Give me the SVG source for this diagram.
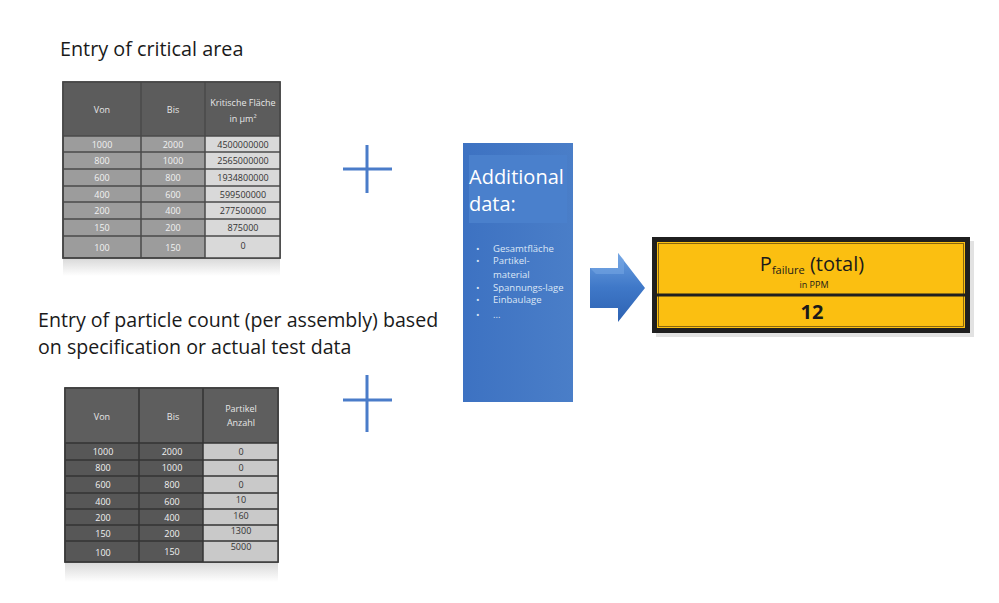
<svg xmlns="http://www.w3.org/2000/svg" width="999" height="603" viewBox="0 0 999 603">
<defs>
<style>
.lbl{font-family:"Open Sans","Noto Sans","Liberation Sans",sans-serif;fill:#1a1a1a}
.tb{font-family:"Open Sans","Liberation Sans",sans-serif;font-size:9px;text-anchor:middle}
.hd{fill:#e6e6e6}
.lt{fill:#f2f2f2}
.dk{fill:#333}
.plus{stroke:#4a7cc9;stroke-width:3;fill:none}
.bul{font-family:"Open Sans","Liberation Sans",sans-serif;font-size:9.5px;fill:#dde7f6}
</style>
<linearGradient id="arr" x1="0" y1="0" x2="0" y2="1">
<stop offset="0" stop-color="#6b9fe0"/><stop offset="0.5" stop-color="#3f78c8"/><stop offset="1" stop-color="#2d62b2"/>
</linearGradient>
<linearGradient id="refl" x1="0" y1="0" x2="0" y2="1">
<stop offset="0" stop-color="#d8d8d8"/><stop offset="1" stop-color="#ffffff"/>
</linearGradient>
<linearGradient id="blue" x1="0" y1="0" x2="1" y2="0">
<stop offset="0" stop-color="#3d72c2"/><stop offset="1" stop-color="#4a7ec8"/>
</linearGradient>
</defs>
<rect width="999" height="603" fill="#fff"/>

<g id="label-critical"><text class="lbl" x="60" y="56" font-size="19.8">Entry of critical area</text></g>

<g id="table-critical">
<rect x="63" y="258" width="217" height="18" fill="url(#refl)"/>
<rect x="63" y="82" width="217" height="176" fill="#9c9c9c" stroke="#444" stroke-width="1.5"/>
<rect x="63" y="82" width="217" height="54" fill="#5c5c5c"/>
<rect x="205" y="136" width="75" height="122" fill="#d9d9d9"/>
<g stroke="#4a4a4a" stroke-width="1.5">
<line x1="63" y1="136" x2="280" y2="136"/>
<line x1="63" y1="152" x2="280" y2="152"/>
<line x1="63" y1="169" x2="280" y2="169"/>
<line x1="63" y1="186" x2="280" y2="186"/>
<line x1="63" y1="202" x2="280" y2="202"/>
<line x1="63" y1="219" x2="280" y2="219"/>
<line x1="63" y1="236" x2="280" y2="236"/>
<line x1="141" y1="82" x2="141" y2="258"/>
<line x1="205" y1="82" x2="205" y2="258"/>
</g>
<rect x="63" y="82" width="217" height="176" fill="none" stroke="#444" stroke-width="1.5"/>
<text class="tb hd" x="102" y="113" font-size="10">Von</text>
<text class="tb hd" x="173" y="113" font-size="10">Bis</text>
<text class="tb hd" x="243" y="106" font-size="8.5">Kritische Fläche</text>
<text class="tb hd" x="243" y="122" font-size="8.5">in µm²</text>
<g class="tb">
<text class="lt" x="102" y="148">1000</text><text class="lt" x="173" y="148">2000</text><text class="dk" x="243" y="148">4500000000</text>
<text class="lt" x="102" y="164">800</text><text class="lt" x="173" y="164">1000</text><text class="dk" x="243" y="164">2565000000</text>
<text class="lt" x="102" y="181">600</text><text class="lt" x="173" y="181">800</text><text class="dk" x="243" y="181">1934800000</text>
<text class="lt" x="102" y="198">400</text><text class="lt" x="173" y="198">600</text><text class="dk" x="243" y="198">599500000</text>
<text class="lt" x="102" y="214">200</text><text class="lt" x="173" y="214">400</text><text class="dk" x="243" y="214">277500000</text>
<text class="lt" x="102" y="231">150</text><text class="lt" x="173" y="231">200</text><text class="dk" x="243" y="231">875000</text>
<text class="lt" x="102" y="251">100</text><text class="lt" x="173" y="251">150</text><text class="dk" x="243" y="249">0</text>
</g>
</g>

<g id="label-particle">
<text class="lbl" x="38" y="327" font-size="19.6">Entry of particle count (per assembly) based</text>
<text class="lbl" x="38" y="354" font-size="19.6">on specification or actual test data</text>
</g>

<g id="table-particle">
<rect x="65" y="562" width="213" height="20" fill="url(#refl)"/>
<rect x="65" y="388" width="213" height="174" fill="#575757" stroke="#3a3a3a" stroke-width="1.5"/>
<rect x="65" y="388" width="213" height="55" fill="#5e5e5e"/>
<rect x="203" y="443" width="75" height="119" fill="#c9c9c9"/>
<g stroke="#333" stroke-width="1.5">
<line x1="65" y1="443" x2="278" y2="443"/>
<line x1="65" y1="460" x2="278" y2="460"/>
<line x1="65" y1="476" x2="278" y2="476"/>
<line x1="65" y1="493" x2="278" y2="493"/>
<line x1="65" y1="509" x2="278" y2="509"/>
<line x1="65" y1="525" x2="278" y2="525"/>
<line x1="65" y1="541" x2="278" y2="541"/>
<line x1="139" y1="388" x2="139" y2="562"/>
<line x1="203" y1="388" x2="203" y2="562"/>
</g>
<rect x="65" y="388" width="213" height="174" fill="none" stroke="#3a3a3a" stroke-width="1.5"/>
<text class="tb hd" x="102" y="420">Von</text>
<text class="tb hd" x="173" y="420">Bis</text>
<text class="tb hd" x="241" y="412" font-size="8">Partikel</text>
<text class="tb hd" x="241" y="426" font-size="8">Anzahl</text>
<g class="tb" font-size="8.5">
<text class="lt" x="103" y="455">1000</text><text class="lt" x="172" y="455">2000</text><text class="dk" x="241" y="455">0</text>
<text class="lt" x="103" y="471">800</text><text class="lt" x="172" y="471">1000</text><text class="dk" x="241" y="471">0</text>
<text class="lt" x="103" y="488">600</text><text class="lt" x="172" y="488">800</text><text class="dk" x="241" y="488">0</text>
<text class="lt" x="103" y="505">400</text><text class="lt" x="172" y="505">600</text><text class="dk" x="241" y="503">10</text>
<text class="lt" x="103" y="521">200</text><text class="lt" x="172" y="521">400</text><text class="dk" x="241" y="519">160</text>
<text class="lt" x="103" y="537">150</text><text class="lt" x="172" y="537">200</text><text class="dk" x="241" y="534">1300</text>
<text class="lt" x="103" y="556">100</text><text class="lt" x="172" y="555">150</text><text class="dk" x="241" y="550">5000</text>
</g>
</g>

<g id="plus-1"><path class="plus" d="M343 169H392M367 145V193"/></g>
<g id="plus-2"><path class="plus" d="M343 400H392M367 375V432"/></g>

<g id="additional-data">
<rect x="463" y="143" width="110" height="259" fill="url(#blue)"/>
<rect x="469" y="155" width="98" height="68" fill="#4a80cc"/>
<text x="469" y="184" font-family="'Open Sans','Liberation Sans',sans-serif" font-size="20" fill="#fff">Additional</text>
<text x="469" y="211" font-family="'Open Sans','Liberation Sans',sans-serif" font-size="20" fill="#fff">data:</text>
<g class="bul">
<text x="476" y="252">•</text><text x="493" y="252">Gesamtfläche</text>
<text x="476" y="264">•</text><text x="493" y="264">Partikel-</text>
<text x="493" y="278">material</text>
<text x="476" y="291">•</text><text x="493" y="291">Spannungs-lage</text>
<text x="476" y="303">•</text><text x="493" y="303">Einbaulage</text>
<text x="476" y="318">•</text><text x="493" y="318">...</text>
</g>
</g>

<g id="connectors">
<path d="M590 268H618V253L645 288L618 322V308H590Z" fill="url(#arr)"/>
<path d="M590 268H618V253L624 260V274H596Z" fill="#7aaae6" opacity="0.5"/>
</g>

<g id="result">
<rect x="656" y="241" width="318" height="96" fill="#cfcfcf" opacity="0.6"/>
<rect x="652" y="237" width="318" height="96" fill="#1f1f1f"/>
<rect x="657" y="242" width="308" height="86" fill="#fbbf11"/>
<rect x="658.5" y="243.5" width="305" height="83" fill="none" stroke="#6a5010" stroke-width="0.8"/>
<line x1="657" y1="295" x2="965" y2="295" stroke="#1f1f1f" stroke-width="3"/>
<text x="812" y="271" text-anchor="middle" font-family="'Open Sans','Liberation Sans',sans-serif" fill="#1a1a1a"><tspan font-size="20">P</tspan><tspan font-size="11" dy="3">failure</tspan><tspan font-size="20" dy="-3"> (total)</tspan></text>
<text x="814" y="288" text-anchor="middle" font-family="'Open Sans','Liberation Sans',sans-serif" font-size="9" fill="#1a1a1a">in PPM</text>
<text x="812" y="319" text-anchor="middle" font-family="'Open Sans','Liberation Sans',sans-serif" font-size="20" font-weight="bold" fill="#1a1a1a">12</text>
</g>
</svg>
